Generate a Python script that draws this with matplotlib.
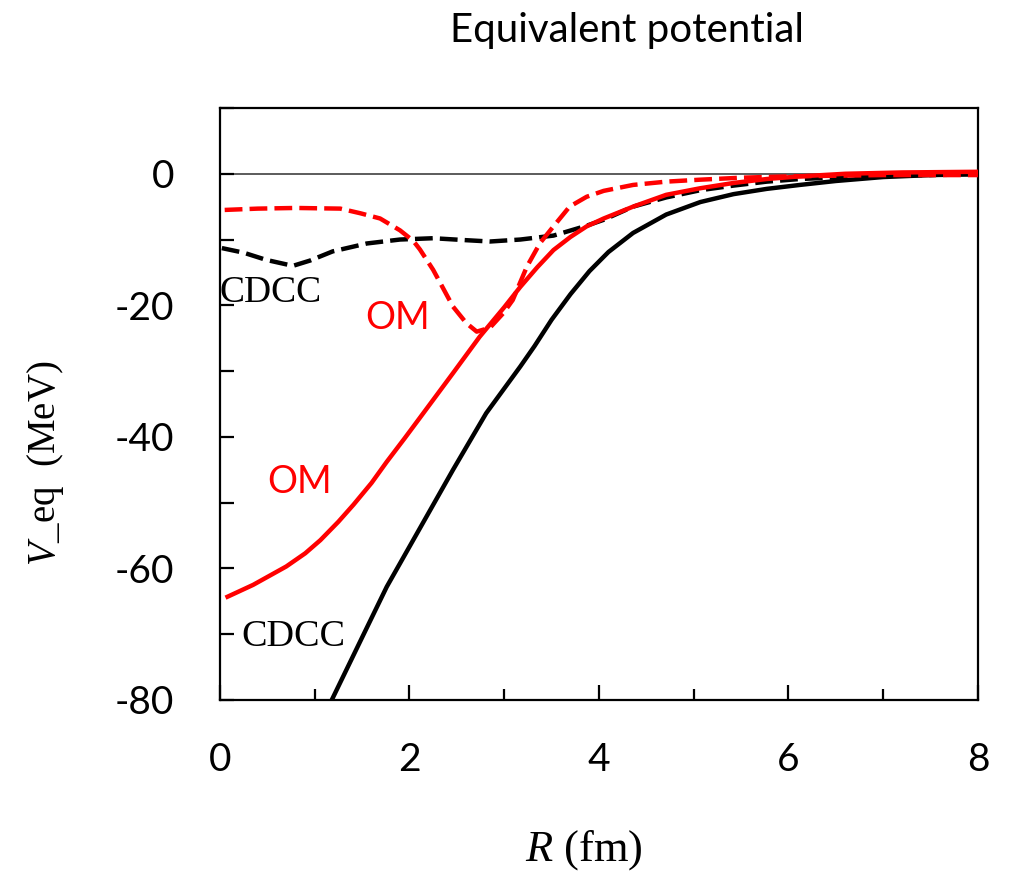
import matplotlib
matplotlib.use("Agg")
import matplotlib.pyplot as plt
from matplotlib.ticker import MultipleLocator

plt.rcParams["axes.unicode_minus"] = False
plt.rcParams["mathtext.fontset"] = "custom"
plt.rcParams["mathtext.it"] = "Liberation Serif:italic"
plt.rcParams["mathtext.rm"] = "Liberation Serif"

# CDCC equivalent potential (solid black)
R_cdcc = [1.18, 1.5, 1.76, 2.11, 2.46, 2.81, 3.17, 3.32, 3.5, 3.7, 3.9, 4.1, 4.36, 4.71,
          5.07, 5.42, 5.77, 6.12, 6.5, 7.0, 7.5, 8.0]
V_cdcc = [-80.0, -70.5, -62.8, -53.9, -45.0, -36.4, -29.3, -26.2, -22.2, -18.3, -14.8, -11.9, -9.0, -6.2,
          -4.3, -3.1, -2.3, -1.7, -1.1, -0.5, -0.2, 0.1]

# OM potential (solid red)
R_om = [0.08, 0.2, 0.35, 0.5, 0.7, 0.9, 1.06, 1.25, 1.41, 1.6, 1.76, 1.95, 2.11, 2.46, 2.74,
        3.0, 3.17, 3.35, 3.52, 3.7, 3.87, 4.05, 4.36, 4.71, 5.07, 5.42, 5.77, 6.12, 6.6, 7.2, 8.0]
V_om = [-64.3, -63.5, -62.5, -61.3, -59.7, -57.7, -55.7, -52.9, -50.3, -47.0, -43.8, -40.2, -37.1, -30.3, -24.8,
        -20.3, -17.2, -14.2, -11.6, -9.6, -8.0, -6.8, -5.0, -3.2, -2.2, -1.4, -0.8, -0.4, 0.0, 0.2, 0.3]

# CDCC dashed (black)
R_cdcc_d = [0.02, 0.25, 0.49, 0.77, 0.95, 1.19, 1.55, 1.9, 2.25, 2.6, 2.85, 3.17, 3.52, 3.87,
            4.05, 4.36, 4.71, 5.07, 5.42, 5.77, 6.12, 6.6, 7.2, 8.0]
V_cdcc_d = [-11.3, -12.0, -13.1, -14.0, -13.2, -11.8, -10.6, -10.0, -9.8, -10.1, -10.3, -10.0, -9.4, -7.9,
            -7.0, -5.0, -3.6, -2.5, -1.8, -1.2, -0.8, -0.5, -0.25, -0.1]

# OM dashed (red)
R_om_d = [0.05, 0.4, 0.8, 1.27, 1.48, 1.69, 1.9, 2.04, 2.11, 2.25, 2.46, 2.6, 2.71, 2.85, 2.99,
          3.09, 3.24, 3.38, 3.52, 3.69, 3.87, 4.05, 4.36, 4.71, 5.07, 5.5, 6.0, 7.0, 8.0]
V_om_d = [-5.5, -5.3, -5.2, -5.3, -6.0, -6.8, -8.6, -10.2, -11.5, -14.6, -20.2, -22.7, -24.0, -23.4, -21.2,
          -19.2, -14.1, -10.5, -8.0, -5.0, -3.5, -2.6, -1.7, -1.2, -0.9, -0.6, -0.4, -0.2, -0.2]

SANS = "Lato"
SERIF = "Liberation Serif"

fig = plt.figure(figsize=(10.15, 8.75), dpi=100)
ax = fig.add_axes([0.2167, 0.2, 0.7468, 0.6766])

ax.axhline(0, color="#404040", lw=1.2, zorder=1)
ax.plot(R_cdcc, V_cdcc, color="black", lw=3.2, zorder=3)
ax.plot(R_om, V_om, color="red", lw=3.2, zorder=4)
ax.plot(R_cdcc_d, V_cdcc_d, color="black", lw=3.2, ls=(0, (4, 1.6)), zorder=3)
ax.plot(R_om_d, V_om_d, color="red", lw=3.2, ls=(0, (4, 1.6)), zorder=4)

ax.set_xlim(0, 8)
ax.set_ylim(-80, 10)
ax.xaxis.set_major_locator(MultipleLocator(2))
ax.xaxis.set_minor_locator(MultipleLocator(1))
ax.set_yticks([0, -20, -40, -60, -80])
ax.yaxis.set_minor_locator(MultipleLocator(10))
ax.tick_params(axis="both", which="both", direction="in", width=1.6)
ax.tick_params(axis="x", which="major", length=11, pad=30)
ax.tick_params(axis="x", which="minor", length=8)
ax.tick_params(axis="y", which="both", length=10, left=True, right=False, pad=33)
ax.tick_params(axis="x", top=False)
for lab in ax.get_xticklabels() + ax.get_yticklabels():
    lab.set_fontfamily(SANS)
    lab.set_fontsize(28)
for s in ax.spines.values():
    s.set_linewidth(1.6)

ax.text(0.0, -18.1, "CDCC", family=SERIF, fontsize=27, color="black", ha="left", va="center")
ax.text(1.87, -22.0, "OM", family=SANS, fontsize=27, color="red", ha="center", va="center")
ax.text(0.84, -46.8, "OM", family=SANS, fontsize=27, color="red", ha="center", va="center")
ax.text(0.77, -70.4, "CDCC", family=SERIF, fontsize=27.5, color="black", ha="center", va="center")

fig.text(0.618, 0.965, "Equivalent potential", family=SANS, fontsize=29, ha="center", va="center")
fig.text(0.575, 0.028, r"$\mathit{R}$ (fm)", family=SERIF, fontsize=32, ha="center", va="center")
fig.text(0.045, 0.47, r"$\mathit{V}$_eq  (MeV)", family=SERIF, fontsize=28, ha="center", va="center",
         rotation=90)

fig.savefig("out.png", dpi=100)
